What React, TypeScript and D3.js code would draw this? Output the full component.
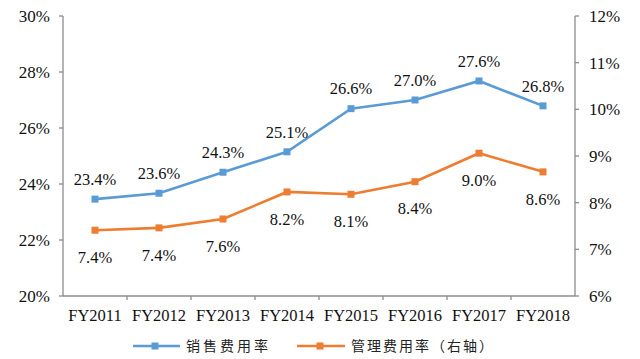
import React from "react";
import * as d3 from "d3";

const categories = ["FY2011", "FY2012", "FY2013", "FY2014", "FY2015", "FY2016", "FY2017", "FY2018"];
const salesRate = [23.46, 23.67, 24.42, 25.15, 26.69, 27.0, 27.68, 26.79];
const salesLabels = ["23.4%", "23.6%", "24.3%", "25.1%", "26.6%", "27.0%", "27.6%", "26.8%"];
const adminRate = [7.41, 7.46, 7.65, 8.23, 8.18, 8.45, 9.06, 8.66];
const adminLabels = ["7.4%", "7.4%", "7.6%", "8.2%", "8.1%", "8.4%", "9.0%", "8.6%"];
const leftTicks = [20, 22, 24, 26, 28, 30];
const rightTicks = [6, 7, 8, 9, 10, 11, 12];
const seriesNames = ["销售费用率", "管理费用率（右轴）"];

const W = 640, H = 359;
const L = 63, R = 575, T = 16, B = 296;
const BLUE = "#5B9BD5", ORANGE = "#ED7D31", AXIS = "#8c8c8c";

export default function App() {
  const x = d3.scaleBand<string>().domain(categories).range([L, R]);
  const yL = d3.scaleLinear().domain([20, 30]).range([B, T]);
  const yR = d3.scaleLinear().domain([6, 12]).range([B, T]);
  const cx = (c: string) => (x(c) as number) + x.bandwidth() / 2;
  const lineL = d3.line<number>().x((_, i) => cx(categories[i])).y((d) => yL(d));
  const lineR = d3.line<number>().x((_, i) => cx(categories[i])).y((d) => yR(d));
  const ms = 7;
  const tickStyle = { fontFamily: "Liberation Serif", fontSize: "17px" };
  const labStyle = { fontFamily: "Liberation Serif", fontSize: "16.5px" };
  const cjk1 = { fontFamily: "Noto Sans CJK SC", fontSize: "14px", letterSpacing: "3px" };
  const cjk2 = { fontFamily: "Noto Sans CJK SC", fontSize: "14px", letterSpacing: "2px" };

  return (
    <svg width={W} height={H} style={{ position: "absolute", left: 0, top: 0, background: "#fff" }}>
      {/* axes */}
      <line x1={L} x2={L} y1={T} y2={B} stroke={AXIS} strokeWidth={1.3} />
      <line x1={R} x2={R} y1={T} y2={B} stroke={AXIS} strokeWidth={1.3} />
      <line x1={L} x2={R} y1={B} y2={B} stroke={AXIS} strokeWidth={1.3} />
      {leftTicks.map((t) => (
        <g key={"l" + t}>
          <line x1={L - 4} x2={L} y1={yL(t)} y2={yL(t)} stroke={AXIS} strokeWidth={1.3} />
          <text x={50} y={yL(t)} dy="0.35em" textAnchor="end" style={tickStyle} fill="#111">{t}%</text>
        </g>
      ))}
      {rightTicks.map((t) => (
        <g key={"r" + t}>
          <line x1={R} x2={R + 4} y1={yR(t)} y2={yR(t)} stroke={AXIS} strokeWidth={1.3} />
          <text x={589} y={yR(t)} dy="0.35em" textAnchor="start" style={tickStyle} fill="#111">{t}%</text>
        </g>
      ))}
      {categories.map((c, i) => (
        <g key={c}>
          {i > 0 && <line x1={x(c)} x2={x(c)} y1={B} y2={B + 4} stroke={AXIS} strokeWidth={1.3} />}
          <text x={cx(c)} y={315} dy="0.35em" textAnchor="middle" style={labStyle} fill="#111">{c}</text>
        </g>
      ))}
      {/* series */}
      <path d={lineL(salesRate) || ""} fill="none" stroke={BLUE} strokeWidth={2.6} />
      <path d={lineR(adminRate) || ""} fill="none" stroke={ORANGE} strokeWidth={2.6} />
      {salesRate.map((v, i) => (
        <g key={"s" + i}>
          <rect x={cx(categories[i]) - ms / 2} y={yL(v) - ms / 2} width={ms} height={ms} fill={BLUE} />
          <text x={cx(categories[i])} y={yL(v) - 20} dy="0.35em" textAnchor="middle" style={labStyle} fill="#111">{salesLabels[i]}</text>
        </g>
      ))}
      {adminRate.map((v, i) => (
        <g key={"a" + i}>
          <rect x={cx(categories[i]) - ms / 2} y={yR(v) - ms / 2} width={ms} height={ms} fill={ORANGE} />
          <text x={cx(categories[i])} y={yR(v) + 27} dy="0.35em" textAnchor="middle" style={labStyle} fill="#111">{adminLabels[i]}</text>
        </g>
      ))}
      {/* legend */}
      <line x1={133} x2={180} y1={346} y2={346} stroke={BLUE} strokeWidth={2.6} />
      <rect x={155 - ms / 2} y={346 - ms / 2} width={ms} height={ms} fill={BLUE} />
      <text x={186} y={346} dy="0.35em" style={cjk1} fill="#222">{seriesNames[0]}</text>
      <line x1={297} x2={345} y1={346} y2={346} stroke={ORANGE} strokeWidth={2.6} />
      <rect x={320 - ms / 2} y={346 - ms / 2} width={ms} height={ms} fill={ORANGE} />
      <text x={351} y={346} dy="0.35em" style={cjk2} fill="#222">{seriesNames[1]}</text>
    </svg>
  );
}
